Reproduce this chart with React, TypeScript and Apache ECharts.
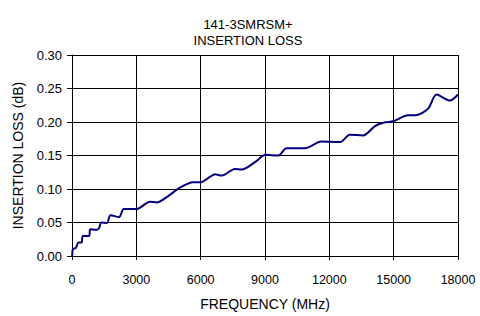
import React, { useEffect, useRef } from "react";
import * as echarts from "echarts";

const chartTitle = "141-3SMRSM+\nINSERTION LOSS";
const xAxisName = "FREQUENCY (MHz)";
const yAxisName = "INSERTION LOSS (dB)";

const frequency = [
  10, 40, 180, 300, 450, 500, 800, 850, 1150, 1250, 1380, 1620, 1800, 2190, 2420, 3000,
  3640, 3950, 4420, 5040, 5650, 6000, 6430, 6670, 6980, 7600, 7910, 8530, 9030, 9620,
  10010, 10860, 11640, 12500, 12960, 13580, 14130, 14600, 14980, 15680, 15990, 16610,
  17000, 17620, 18000,
];
const loss = [
  0.0, 0.01, 0.012, 0.02, 0.02, 0.03, 0.03, 0.04, 0.039, 0.041, 0.05, 0.049, 0.061, 0.058, 0.07, 0.07,
  0.081, 0.08, 0.088, 0.102, 0.11, 0.11, 0.118, 0.122, 0.12, 0.13, 0.129, 0.14, 0.151, 0.15,
  0.161, 0.161, 0.171, 0.17, 0.181, 0.18, 0.194, 0.1995, 0.201, 0.21, 0.21, 0.22,
  0.241, 0.232, 0.241,
];

const FONT = "'Liberation Sans', Arial, sans-serif";

export default function App() {
  const ref = useRef<HTMLDivElement>(null);
  useEffect(() => {
    if (!ref.current) return;
    const chart = echarts.init(ref.current, null, { renderer: "svg" });
    chart.setOption({
      animation: false,
      backgroundColor: "#ffffff",
      title: {
        text: chartTitle,
        left: 243,
        textAlign: "center",
        top: 11,
        textStyle: { fontFamily: FONT, fontSize: 13, fontWeight: "normal", color: "#000", lineHeight: 16.5 },
      },
      grid: { left: 72, right: 22, top: 55, bottom: 49 },
      xAxis: {
        type: "value",
        min: 0,
        max: 18000,
        interval: 3000,
        name: xAxisName,
        nameLocation: "middle",
        nameGap: 41,
        nameTextStyle: { fontFamily: FONT, fontSize: 14, color: "#000" },
        axisLine: { show: true, lineStyle: { color: "#000", width: 1 } },
        axisTick: { show: true, inside: false, length: 4, lineStyle: { color: "#000" } },
        axisLabel: {
          fontFamily: FONT,
          fontSize: 12.5,
          color: "#000",
          margin: 17,
          formatter: (v: number) => String(v),
        },
        splitLine: { show: true, lineStyle: { color: "#000", width: 1 } },
      },
      yAxis: {
        type: "value",
        min: 0,
        max: 0.3,
        interval: 0.05,
        name: yAxisName,
        nameLocation: "middle",
        nameGap: 47,
        nameTextStyle: { fontFamily: FONT, fontSize: 14, color: "#000" },
        axisLine: { show: true, lineStyle: { color: "#000", width: 1 } },
        axisTick: { show: true, inside: false, length: 5, lineStyle: { color: "#000" } },
        axisLabel: {
          fontFamily: FONT,
          fontSize: 13,
          color: "#000",
          margin: 10,
          formatter: (v: number) => v.toFixed(2),
        },
        splitLine: { show: true, lineStyle: { color: "#000", width: 1 } },
      },
      series: [
        {
          type: "line",
          data: frequency.map((f, i) => [f, loss[i]]),
          smooth: 0.3,
          symbol: "none",
          lineStyle: { color: "#000080", width: 2 },
        },
      ],
    });
    return () => chart.dispose();
  }, []);
  return <div ref={ref} style={{ width: 480, height: 316, position: "absolute", left: 0, top: 0 }} />;
}
